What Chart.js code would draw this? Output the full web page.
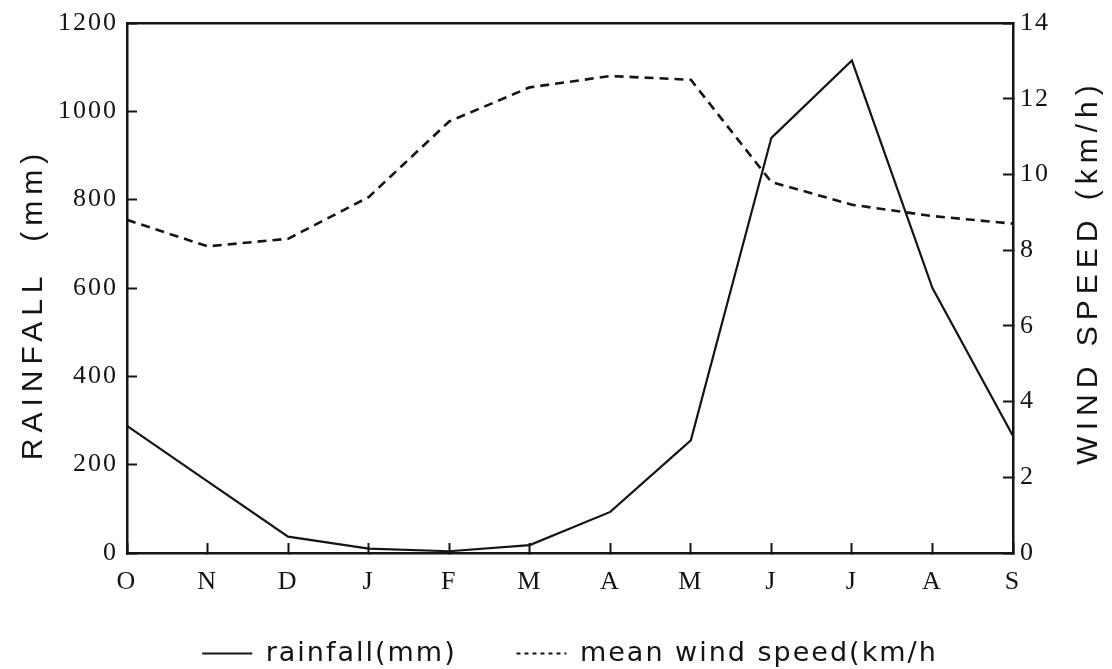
<!DOCTYPE html>
<html>
<head>
<meta charset="utf-8">
<title>Rainfall and wind speed</title>
<script src="https://cdn.jsdelivr.net/npm/chart.js@4.4.1/dist/chart.umd.min.js"></script>
<style>
  html, body { margin: 0; padding: 0; background: #fff; }
  canvas { display: block; }
</style>
</head>
<body>
<canvas id="grafico" width="1112" height="669"></canvas>
<script>
// monthly values, October to September
const meses = ['O', 'N', 'D', 'J', 'F', 'M', 'A', 'M', 'J', 'J', 'A', 'S'];
const lluvia = [288, 162, 37, 10, 4, 18, 93, 255, 940, 1115, 600, 265];
const viento = [8.8, 8.1, 8.3, 9.4, 11.4, 12.3, 12.6, 12.5, 9.8, 9.2, 8.9, 8.7];

const ticksLluvia = { min: 0, max: 1200, step: 200 };
const ticksViento = { min: 0, max: 14, step: 2 };

const tituloIzq = 'RAINFALL  (mm)';
const tituloDer = 'WIND SPEED (km/h)';

const negro = '#141414';
const fuenteTicks = { family: '"Liberation Serif", serif', size: 26 };

// extra room after the first legend entry
const rellenoLeyenda = ['   ', ''];

// the old plotter font is wide, so all text gets a little tracking
const espaciado = {
    id: 'espaciado',
    beforeUpdate(chart) {
        if ('letterSpacing' in chart.ctx) chart.ctx.letterSpacing = '2px';
    },
    beforeDraw(chart) {
        if ('letterSpacing' in chart.ctx) chart.ctx.letterSpacing = '2px';
    }
};

// vertical axis titles, drawn spaced out
const titulosEjes = {
    id: 'titulosEjes',
    afterDraw(chart) {
        const { ctx, chartArea } = chart;
        const mitad = (chartArea.top + chartArea.bottom) / 2;
        ctx.save();
        ctx.font = '30px "Liberation Sans", sans-serif';
        ctx.fillStyle = negro;
        ctx.textAlign = 'center';
        ctx.textBaseline = 'middle';
        if ('letterSpacing' in ctx) ctx.letterSpacing = '6px';

        ctx.save();
        ctx.translate(34, mitad + 16);
        ctx.rotate(-Math.PI / 2);
        ctx.fillText(tituloIzq, 0, 0);
        ctx.restore();

        ctx.save();
        ctx.translate(1089, mitad - 16);
        ctx.rotate(-Math.PI / 2);
        ctx.fillText(tituloDer, 0, 0);
        ctx.restore();

        ctx.restore();
    }
};

// vertical axes: no extra room above/below for the end labels
const ajustarEjeY = ancho => s => {
    s.width = ancho;
    s.paddingTop = 0;
    s.paddingBottom = 0;
};

const ctx = document.getElementById('grafico').getContext('2d');

new Chart(ctx, {
    type: 'line',
    data: {
        labels: meses,
        datasets: [{
            label: 'rainfall(mm)',
            data: lluvia,
            yAxisID: 'y',
            borderColor: negro,
            borderWidth: 2.2,
            pointRadius: 0,
            tension: 0,
            fill: false
        }, {
            label: 'mean wind speed(km/h',
            data: viento,
            yAxisID: 'y1',
            borderColor: negro,
            borderWidth: 2.6,
            borderDash: [9, 6],
            pointRadius: 0,
            tension: 0,
            fill: false
        }]
    },
    options: {
        responsive: false,
        animation: false,
        layout: { padding: { top: 23, bottom: -8, left: 0, right: 0 } },
        plugins: {
            tooltip: { enabled: false },
            legend: {
                position: 'bottom',
                fullSize: false,
                labels: {
                    usePointStyle: true,
                    pointStyle: 'line',
                    pointStyleWidth: 50,
                    padding: 28,
                    color: negro,
                    font: { family: '"DejaVu Sans", sans-serif', size: 27 },
                    generateLabels(chart) {
                        const items = Chart.defaults.plugins.legend.labels.generateLabels(chart);
                        items.forEach((it, i) => { it.text += rellenoLeyenda[i] || ''; });
                        // the legend swatch for wind speed is a fine dotted line
                        if (items[1]) { items[1].lineDash = [4, 4]; items[1].lineWidth = 2; }
                        return items;
                    }
                }
            }
        },
        scales: {
            x: {
                type: 'category',
                position: 'bottom',
                offset: false,
                grid: { drawOnChartArea: false, tickLength: -10, tickWidth: 2, color: negro },
                border: { display: true, color: negro, width: 2.5 },
                ticks: { color: negro, font: fuenteTicks, padding: 24, maxRotation: 0, autoSkip: false },
                afterFit: s => { s.height = 59; }
            },
            xTop: {
                type: 'category',
                position: 'top',
                offset: false,
                grid: { display: false },
                ticks: { display: false },
                border: { display: true, color: negro, width: 2.5 },
                afterFit: s => { s.height = 0; }
            },
            y: {
                position: 'left',
                min: ticksLluvia.min,
                max: ticksLluvia.max,
                grid: { drawOnChartArea: false, tickLength: -10, tickWidth: 2, color: negro },
                border: { display: true, color: negro, width: 2.5 },
                ticks: {
                    stepSize: ticksLluvia.step, color: negro, font: fuenteTicks, padding: 19,
                    callback: v => String(v)
                },
                afterFit: ajustarEjeY(127)
            },
            y1: {
                position: 'right',
                min: ticksViento.min,
                max: ticksViento.max,
                grid: { drawOnChartArea: false, tickLength: -10, tickWidth: 2, color: negro },
                border: { display: true, color: negro, width: 2.5 },
                ticks: {
                    stepSize: ticksViento.step, color: negro, font: fuenteTicks, padding: 17,
                    callback: v => String(v)
                },
                afterFit: ajustarEjeY(99)
            }
        }
    },
    plugins: [espaciado, titulosEjes]
});
</script>
</body>
</html>
